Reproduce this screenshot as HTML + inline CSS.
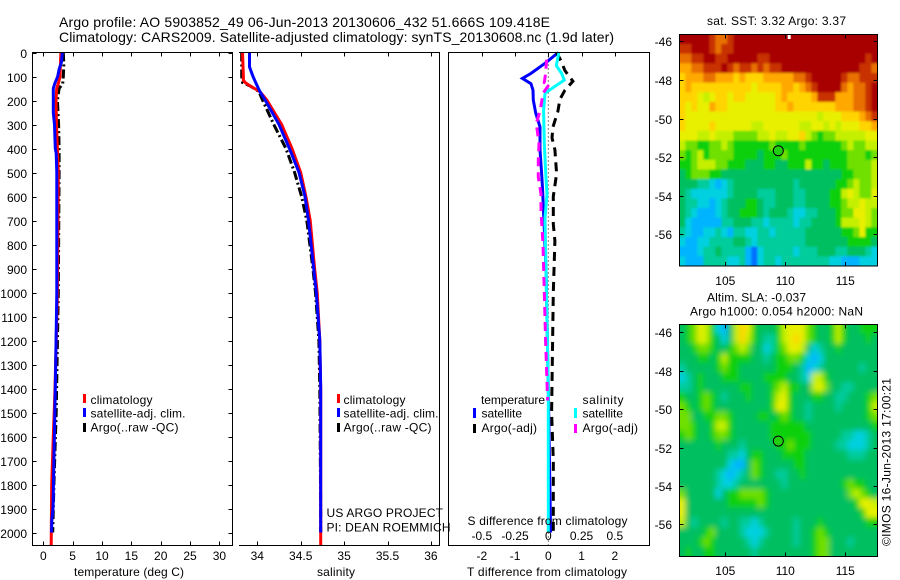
<!DOCTYPE html>
<html>
<head>
<meta charset="utf-8">
<title>Argo profile</title>
<style>
html,body{margin:0;padding:0;background:#fff;}
svg{display:block;}
text{font-family:"Liberation Sans",sans-serif;font-size:12px;fill:#000;}
.ttl{font-size:14px;}
</style>
</head>
<body>
<svg id="chart" width="900" height="580" viewBox="0 0 900 580" xmlns="http://www.w3.org/2000/svg">
<defs>
<clipPath id="clipA"><rect x="679.5" y="34.5" width="198" height="231.5"/></clipPath>
<clipPath id="clipB"><rect x="679.5" y="324.5" width="198" height="232"/></clipPath>
<filter id="softA" x="-5%" y="-5%" width="110%" height="110%"><feGaussianBlur stdDeviation="1"/></filter>
<filter id="softB" x="-5%" y="-5%" width="110%" height="110%"><feGaussianBlur stdDeviation="3"/></filter>
</defs>
<rect x="0" y="0" width="900" height="580" fill="#fff"/>
<text class="ttl" x="59" y="27" textLength="491" lengthAdjust="spacing">Argo profile: AO 5903852_49 06-Jun-2013 20130606_432 51.666S 109.418E</text>
<text class="ttl" x="59" y="42" textLength="555" lengthAdjust="spacing">Climatology: CARS2009. Satellite-adjusted climatology: synTS_20130608.nc (1.9d later)</text>

<g id="p1"></g>
<g id="p2"></g>
<g id="p3"></g>
<g id="m1"></g>
<g id="m2"></g>

<g fill="none" stroke="#000" stroke-width="1">
<path d="M32.5 52.5H232.5V545.5H32.5Z"/>
<path d="M239 52.5H439.5V545.5H239"/>
<path d="M448.5 52.5H649.5V545.5H448.5Z"/>
<path d="M679.5 34.5H877.5V266H679.5Z"/>
<path d="M679.5 324.5H877.5V556.5H679.5Z"/>
</g>

<text x="74" y="576" textLength="110" lengthAdjust="spacing">temperature (deg C)</text>
<text x="317" y="576" textLength="38" lengthAdjust="spacing">salinity</text>
<text x="467" y="576" textLength="160" lengthAdjust="spacing">T difference from climatology</text>
<text x="467.5" y="525" textLength="160" lengthAdjust="spacing">S difference from climatology</text>

<g>
<rect x="83" y="394" width="3" height="9" fill="#f00"/>
<rect x="83" y="408" width="3" height="9" fill="#00f"/>
<rect x="83" y="423" width="3" height="9" fill="#000"/>
<text x="90.5" y="404" textLength="62" lengthAdjust="spacing">climatology</text>
<text x="90.5" y="417.5" textLength="95" lengthAdjust="spacing">satellite-adj. clim.</text>
<text x="90.5" y="431.5" textLength="88" lengthAdjust="spacing">Argo(..raw -QC)</text>
</g>
<g>
<rect x="337" y="394" width="3" height="9" fill="#f00"/>
<rect x="337" y="408" width="3" height="9" fill="#00f"/>
<rect x="337" y="423" width="3" height="9" fill="#000"/>
<text x="343.5" y="404" textLength="62" lengthAdjust="spacing">climatology</text>
<text x="343.5" y="417.5" textLength="95" lengthAdjust="spacing">satellite-adj. clim.</text>
<text x="343.5" y="431.5" textLength="88" lengthAdjust="spacing">Argo(..raw -QC)</text>
</g>
<g>
<text x="481" y="404" textLength="64" lengthAdjust="spacing">temperature</text>
<text x="582.5" y="404" textLength="41" lengthAdjust="spacing">salinity</text>
<rect x="473" y="408" width="3" height="10" fill="#00f"/>
<rect x="473" y="424" width="3" height="9" fill="#000"/>
<rect x="574" y="408" width="3" height="10" fill="#0ff"/>
<rect x="574" y="424" width="3" height="9" fill="#f0f"/>
<text x="481.5" y="417.5" textLength="40.5" lengthAdjust="spacing">satellite</text>
<text x="481.5" y="432" textLength="55.5" lengthAdjust="spacing">Argo(-adj)</text>
<text x="582.5" y="417.5" textLength="40.5" lengthAdjust="spacing">satellite</text>
<text x="582.5" y="432" textLength="55.5" lengthAdjust="spacing">Argo(-adj)</text>
</g>

<text x="326.5" y="517" textLength="116.5" lengthAdjust="spacing">US ARGO PROJECT</text>
<text x="326.5" y="531.5" textLength="124" lengthAdjust="spacing">PI: DEAN ROEMMICH</text>

<text x="707" y="25" textLength="139" lengthAdjust="spacing">sat. SST: 3.32 Argo: 3.37</text>
<text x="707" y="301.5" textLength="99" lengthAdjust="spacing">Altim. SLA: -0.037</text>
<text x="690" y="315.5" textLength="173" lengthAdjust="spacing">Argo h1000: 0.054 h2000: NaN</text>
<text transform="translate(890.5,546) rotate(-90)" textLength="168" lengthAdjust="spacing">©IMOS 16-Jun-2013 17:00:21</text>
</svg>
<script>
// ---- shared axis labels ----
const depthTicks = [0,100,200,300,400,500,600,700,800,900,1000,1100,1200,1300,1400,1500,1600,1700,1800,1900,2000];
const tempTicks = [0,5,10,15,20,25,30];
const salTicks = [34,34.5,35,35.5,36];
const salTickLabels = ['34','34.5','35','35.5','36'];
const tDiffTicks = [-2,-1,0,1,2];
const sDiffTicks = [-0.5,-0.25,0,0.25,0.5];
const sDiffLabels = ['-0.5','-0.25','0','0.25','0.5'];
const lonTicks = [105,110,115];
const latTicks = [-46,-48,-50,-52,-54,-56];

// ---- temperature profiles ----
const tClimDepth = [0,100,125,150,200,300,500,1000,1400,1500,1600,1800,2000,2052];
const tClim = [3.0,2.85,2.6,2.28,2.16,2.25,2.56,2.4,2.0,1.85,1.7,1.43,1.37,1.35];
const tSatDepth = [0,40,70,100,130,150,250,300,400,420,500,1000,1400,1700,1900,1950,2000];
const tSat = [3.24,3.1,2.7,2.45,1.95,1.7,1.7,1.9,2.05,2.2,2.3,2.3,2.05,1.8,1.65,1.45,1.4];
const tArgoDepth = [0,50,100,130,150,200,300,400,500,1000,1500,1800,2000];
const tArgo = [3.4,3.5,3.4,3.3,2.7,2.4,2.6,2.7,2.7,2.55,2.2,1.8,1.6];

// ---- salinity profiles ----
const sClimDepth = [0,100,115,125,140,163,198,300,400,500,600,700,900,1000,1200,1400,2052];
const sClim = [33.83,33.84,33.84,33.86,33.92,34.03,34.11,34.28,34.40,34.50,34.56,34.61,34.66,34.69,34.72,34.73,34.73];
const sSatDepth = [0,60,100,128,163,198,300,400,500,600,700,900,1000,1200,1400,2000];
const sSat = [33.91,33.91,33.95,33.985,34.03,34.09,34.25,34.37,34.48,34.55,34.59,34.65,34.68,34.72,34.73,34.73];
const sArgoDepth = [0,100,125,140,163,198,300,400,500,600,700,900,1000,1200,1400,1900,2000];
const sArgo = [33.82,33.82,33.83,33.92,34.02,34.06,34.19,34.33,34.43,34.51,34.57,34.64,34.67,34.71,34.72,34.73,34.73];

// ---- difference profiles ----
const dTSatDepth = [0,45,87,108,130,157,198,252,310,406,503,573,642,900,1400,2000];
const dTSat = [0.3,-0.1,-0.52,-0.78,-0.52,-0.46,-0.45,-0.38,-0.25,-0.25,-0.2,-0.17,-0.15,-0.07,0,0.07];
const dTArgoDepth = [0,40,75,120,157,195,245,310,355,405,505,600,715,785,1000,1500,1700,2000];
const dTArgo = [0.25,0.4,0.5,0.74,0.5,0.35,0.29,0.14,0.11,0.2,0.25,0.15,0.15,0.2,0.15,0.1,0.15,0.15];
const dSSatDepth = [0,55,87,115,145,170,240,380,520,590,690,1400,2000];
const dSSat = [0.08,0.06,0.1,0.12,0.04,-0.025,-0.035,-0.03,-0.018,-0.01,-0.025,0,0];
const dSArgoDepth = [30,87,125,130,170,240,295,380,450,520,590,660,800,1000,1200,1450];
const dSArgo = [-0.0125,-0.02,-0.03,0.01,-0.04,-0.06,-0.09,-0.07,-0.075,-0.075,-0.055,-0.055,-0.04,-0.03,-0.02,-0.005];

// ---- map markers ----
const argoLon = 109.418;
const argoLat = -51.666;
const colorLevels = ['#0070ff','#00b4ff','#00d0e0','#00cc9c','#00bf60','#08d010','#70e000','#c4f000','#e8f000','#ffd400','#ffa800','#e87000','#c83000','#a80000'];

// ---- SST map grid, north to south ----
const sstRows = [
[13,13,13,13,13,12,11,11,12,13,13, 13,13,13,13,13,13,13,13,13,13,13, 13,13,13,13,13,13,13,13,13,13,13],
[12,12,13,13,13,12,11,12,12,13,13, 13,13,13,13,13,13,13,13,13,13,13, 13,13,13,13,13,13,13,13,13,13,13],
[11,11,12,12,13,13,12,12,13,13,13, 13,13,12,12,13,13,13,13,13,13,13, 13,13,13,13,13,13,13,13,13,12,13],
[10,10,11,11,12,12,12,13,12,11,12, 12,11,12,11,12,12,13,13,13,13,13, 13,13,13,13,13,13,13,13,12,12,11],
[9,10,10,10,11,11,10,10,10,9,10, 9,9,9,10,10,10,10,10,11,11,12, 13,13,13,13,13,12,11,11,12,12,12],
[9,10,9,9,9,9,9,9,9,9,9, 9,8,9,9,9,9,10,10,9,10,11, 12,13,13,13,13,11,10,11,11,12,13],
[9,9,9,8,7,8,9,9,8,9,9, 8,8,8,8,8,9,10,9,9,9,9, 10,12,12,12,10,10,10,11,11,12,13],
[9,8,9,8,8,10,9,9,8,8,8, 8,8,8,8,8,9,9,10,9,9,9, 9,9,9,9,10,10,10,11,11,12,13],
[9,8,8,8,8,8,8,8,8,8,8, 8,8,8,8,8,8,8,8,8,8,8, 8,7,8,8,8,9,9,9,10,11,12],
[9,8,8,8,8,9,8,8,8,8,8, 8,7,7,8,8,8,8,8,8,7,7, 8,8,7,8,7,8,8,8,9,9,10],
[8,8,8,7,7,8,7,7,7,6,6, 6,6,7,7,8,7,7,8,8,9,7, 6,5,6,6,7,7,7,7,7,8,8],
[7,6,6,5,5,6,6,7,6,5,5, 5,5,5,5,6,5,5,5,5,6,5, 5,5,5,5,5,6,7,6,6,7,7],
[6,5,6,7,5,6,6,6,6,5,5, 5,5,4,5,5,5,6,5,5,5,5, 5,5,5,5,5,5,6,6,6,5,6],
[5,5,6,7,7,7,6,6,5,5,5, 4,4,4,5,5,4,4,5,5,5,7, 5,5,4,5,5,5,6,6,6,6,7],
[4,5,6,6,6,5,5,4,4,4,4, 4,4,4,4,4,4,4,4,4,4,4, 4,4,4,4,4,5,5,6,6,6,7],
[4,4,4,3,3,2,1,2,3,4,4, 4,4,4,4,4,4,4,4,3,4,4, 4,4,4,4,5,5,6,7,6,6,7],
[4,3,2,2,2,2,2,2,3,4,4, 4,4,3,3,3,4,4,4,3,3,4, 4,4,4,5,5,7,8,7,6,6,8],
[4,3,3,2,2,1,2,3,4,4,4, 5,5,4,3,3,4,4,4,3,3,4, 4,4,4,5,5,6,7,7,8,7,7],
[4,3,2,1,1,1,2,3,4,4,5, 5,5,4,3,4,4,4,3,2,2,3, 3,4,4,4,5,6,6,8,8,7,6],
[4,2,1,1,1,1,1,3,3,4,4, 4,3,3,2,3,3,3,3,2,3,3, 4,4,4,4,5,7,7,7,8,7,6],
[3,2,1,1,2,2,3,2,1,3,3, 2,2,3,3,2,3,3,3,3,3,4, 4,4,4,4,4,5,5,6,8,5,5],
[2,1,1,2,2,3,3,3,3,4,4, 3,2,3,3,3,3,3,3,3,3,4, 4,4,4,4,4,4,5,5,5,5,4],
[1,1,1,2,3,3,4,3,3,3,3, 1,0,2,3,3,3,3,3,2,3,3, 3,4,4,4,3,3,4,4,4,3,2],
[2,1,1,1,3,3,3,3,2,2,3, 1,0,2,3,3,2,3,3,3,3,3, 3,3,3,2,2,1,1,1,2,2,2]
];

// ---- altimetry map grid, north to south ----
const slaRows = [
[4,5,6,8,7,5,2,1,4,7,9, 8,5,4,4,4,5,7,8,8,8,6, 5,4,4,5,7,5,4,4,5,5,5],
[4,5,6,8,7,5,4,2,4,7,9, 7,5,4,3,3,5,7,8,9,8,6, 5,4,4,5,7,5,4,4,4,5,4],
[4,4,5,6,6,5,4,4,5,6,7, 6,4,4,2,3,5,6,8,8,7,4, 2,3,4,4,5,4,4,4,4,4,4],
[4,4,4,5,5,4,5,7,5,5,5, 5,4,4,3,4,5,5,6,6,5,2, 1,2,4,4,4,4,4,4,4,4,4],
[3,4,4,4,4,4,5,6,5,5,4, 4,4,4,4,4,5,5,5,4,3,1, 2,3,4,4,4,4,4,4,3,4,4],
[2,3,4,5,4,4,4,5,5,5,4, 4,4,4,5,5,5,5,4,4,3,2, 7,7,5,4,4,4,4,4,4,4,4],
[3,3,4,5,4,4,4,4,4,4,5, 5,4,4,4,5,6,7,5,5,4,4, 7,8,6,4,4,3,3,4,4,4,4],
[5,4,4,5,6,5,4,3,4,4,4, 5,4,4,4,5,7,8,5,4,4,4, 5,5,4,4,3,3,4,4,4,5,6],
[6,5,4,5,6,5,4,4,4,4,4, 4,4,4,4,5,8,8,5,4,4,3, 4,4,4,4,3,4,4,4,4,5,7],
[6,6,4,4,5,5,6,6,5,4,4, 4,4,5,5,4,5,6,5,4,4,3, 4,4,4,4,4,4,4,4,4,5,6],
[6,6,5,4,4,5,7,7,5,4,4, 4,4,4,4,5,5,5,5,5,5,4, 4,4,4,4,4,4,4,4,4,4,5],
[5,6,5,4,4,5,6,6,5,4,4, 4,4,4,4,5,5,5,5,5,5,5, 4,4,4,4,4,3,3,2,2,3,4],
[4,4,4,4,4,4,5,4,4,4,3, 4,4,4,4,4,5,5,6,5,5,5, 4,4,4,4,3,3,2,2,2,3,4],
[4,4,4,4,4,4,4,4,3,3,2, 4,5,5,4,4,4,5,5,5,5,4, 4,4,4,4,4,4,3,3,3,4,4],
[4,4,4,4,4,4,4,4,2,1,1, 4,6,5,4,4,4,4,4,5,5,4, 4,4,4,4,4,4,4,4,4,4,4],
[4,4,4,4,4,4,3,2,1,2,3, 4,6,5,4,4,3,3,4,4,5,4, 4,4,4,4,4,4,4,4,4,4,4],
[4,4,4,4,4,4,3,2,2,3,4, 4,4,4,4,4,4,3,4,4,4,4, 4,4,4,4,4,5,6,5,5,4,4],
[6,4,4,4,4,4,2,4,5,5,6, 6,6,6,5,4,4,4,4,4,4,4, 4,4,4,4,4,4,6,7,6,5,4],
[8,4,4,4,4,4,4,4,5,5,5, 5,5,6,5,4,4,4,4,4,4,4, 4,4,4,4,4,4,4,5,8,8,7],
[8,4,4,4,4,4,4,4,4,4,4, 4,4,4,4,4,4,4,4,4,4,4, 4,4,4,4,4,4,4,4,5,8,8],
[7,4,3,4,4,4,4,3,4,4,3, 3,2,3,4,4,4,4,4,3,4,4, 4,5,4,4,4,4,4,4,4,5,5],
[4,4,4,4,5,6,4,4,4,4,3, 2,2,2,3,4,4,4,4,3,4,4, 5,6,5,4,4,4,4,4,4,4,4],
[4,4,4,5,6,5,4,4,4,4,4, 3,2,3,4,4,4,4,4,3,4,4, 5,6,6,4,4,4,3,4,4,4,4],
[4,5,4,4,5,5,4,4,4,4,4, 4,3,4,4,4,4,4,4,4,4,4, 5,6,6,4,4,4,4,4,4,4,4]
];

// ---- axis functions ----
const SVGNS = 'http://www.w3.org/2000/svg';
const yDepth = d => 52.5 + d * 0.24;
const xTemp = v => 43.3 + v * 5.87;
const xSal = v => 257.3 + (v - 34) * 86.8;
const xDiffT = v => 548.3 + v * 33.25;
const xDiffS = v => 548.3 + v * 133;
const xLon = v => 725.3 + (v - 105) * 12;
const yLatA = v => 41.3 + (-46 - v) * 19.3;
const yLatB = v => 332.3 + (-46 - v) * 19.2;

function make(tag, attrs, parent) {
  const el = document.createElementNS(SVGNS, tag);
  for (const k in attrs) el.setAttribute(k, attrs[k]);
  parent.appendChild(el);
  return el;
}
function label(str, x, y, anchor, parent) {
  const el = make('text', {x: x, y: y, 'text-anchor': anchor}, parent);
  el.textContent = str;
  
  
  return el;
}
function tick(x1, y1, x2, y2, parent) {
  const el = make('line', {x1: x1, y1: y1, x2: x2, y2: y2, stroke: '#000', 'stroke-width': 1}, parent);
  
  
  return el;
}
function profile(values, depths, xf, color, dash, width, name, parent) {
  const pts = values.map((v, i) => xf(v).toFixed(1) + ',' + yDepth(depths[i]).toFixed(1)).join(' ');
  const attrs = {points: pts, fill: 'none', stroke: color, 'stroke-width': width, 'stroke-linejoin': 'miter'};
  if (dash) attrs['stroke-dasharray'] = dash;
  const el = make('polyline', attrs, parent);
  
  
  return el;
}

// ---- temperature panel ----
const p1 = document.getElementById('p1');
profile(tArgo, tArgoDepth, xTemp, '#000', '9 3 2 3', 3, 'argo-temperature-line', p1);
profile(tClim, tClimDepth, xTemp, '#f00', null, 3, 'climatology-temperature-line', p1);
profile(tSat, tSatDepth, xTemp, '#00f', null, 3, 'satellite-temperature-line', p1);
depthTicks.forEach(d => {
  const y = Math.round(yDepth(d)) + 0.5;
  tick(32.5, y, 36.5, y, p1);
  tick(228.5, y, 232.5, y, p1);
  label(String(d), 27, y + 4.5, 'end', p1);
});
tempTicks.forEach(t => {
  const x = Math.round(xTemp(t)) + 0.5;
  tick(x, 52.5, x, 56.5, p1);
  tick(x, 541.5, x, 545.5, p1);
  label(String(t), xTemp(t), 560, 'middle', p1);
});

// ---- salinity panel ----
const p2 = document.getElementById('p2');
profile(sArgo, sArgoDepth, xSal, '#000', '9 3 2 3', 3, 'argo-salinity-line', p2);
profile(sClim, sClimDepth, xSal, '#f00', null, 3, 'climatology-salinity-line', p2);
profile(sSat, sSatDepth, xSal, '#00f', null, 3, 'satellite-salinity-line', p2);
salTicks.forEach((t, i) => {
  const x = Math.round(xSal(t)) + 0.5;
  tick(x, 52.5, x, 56.5, p2);
  tick(x, 541.5, x, 545.5, p2);
  label(salTickLabels[i], xSal(t), 560, 'middle', p2);
});

// ---- difference panel ----
const p3 = document.getElementById('p3');
const zero = make('line', {x1: xDiffT(0), y1: 52.5, x2: xDiffT(0), y2: 545.5, stroke: '#000', 'stroke-width': 1, 'stroke-dasharray': '1 3'}, p3);


profile(dTSat, dTSatDepth, xDiffT, '#00f', null, 3, 't-satellite-difference-line', p3);
profile(dTArgo, dTArgoDepth, xDiffT, '#000', '9 6', 3, 't-argo-difference-line', p3);
profile(dSSat, dSSatDepth, xDiffS, '#0ff', null, 3, 's-satellite-difference-line', p3);
profile(dSArgo, dSArgoDepth, xDiffS, '#f0f', '9 6', 3, 's-argo-difference-line', p3);
tDiffTicks.forEach(t => {
  const x = Math.round(xDiffT(t)) + 0.5;
  tick(x, 52.5, x, 56.5, p3);
  label(String(t), xDiffT(t), 560, 'middle', p3);
});
sDiffTicks.forEach((t, i) => {
  label(sDiffLabels[i], xDiffS(t), 540, 'middle', p3);
});

// ---- maps ----
function heatmap(rows, parent, clipId, yLat, latTop, latBottom, filterId) {
  const clip = make('g', {'clip-path': 'url(#' + clipId + ')'}, parent);
  const g = make('g', {filter: 'url(#' + filterId + ')'}, clip);
  const lonLeft = 101.17, lonRight = 117.67;
  const pad = 8;
  rows.forEach((row, r) => {
    row.forEach((v, c) => {
      const dLon = (lonRight - lonLeft) / row.length;
      const dLat = (latTop - latBottom) / rows.length;
      const x0 = xLon(lonLeft + c * dLon), x1 = xLon(lonLeft + (c + 1) * dLon);
      const y0 = yLat(latTop - r * dLat), y1 = yLat(latTop - (r + 1) * dLat);
      const cell = make('rect', {
        x: (x0 - (c === 0 ? pad : 0)).toFixed(2),
        y: (y0 - (r === 0 ? pad : 0)).toFixed(2),
        width: (x1 - x0 + 0.4 + (c === 0 || c === row.length - 1 ? pad : 0)).toFixed(2),
        height: (y1 - y0 + 0.4 + (r === 0 || r === rows.length - 1 ? pad : 0)).toFixed(2),
        fill: colorLevels[v]
      }, g);
      
      
    });
  });
}
function mapAxes(parent, yLat, top, bottom, labelY) {
  const left = 679.5, right = 877.5;
  lonTicks.forEach(t => {
    const x = Math.round(xLon(t)) + 0.5;
    tick(x, top, x, top + 4, parent);
    tick(x, bottom - 4, x, bottom, parent);
    label(String(t), xLon(t), labelY, 'middle', parent);
  });
  latTicks.forEach(t => {
    const y = Math.round(yLat(t)) + 0.5;
    tick(left, y, left + 4, y, parent);
    tick(right - 4, y, right, y, parent);
    label(String(t), 672, y + 4.5, 'end', parent);
  });
}
function marker(parent, yLat) {
  const m = make('circle', {cx: xLon(argoLon).toFixed(1), cy: yLat(argoLat).toFixed(1), r: 5, fill: '#20d010', stroke: '#000', 'stroke-width': 1}, parent);
  
  
}
const m1 = document.getElementById('m1');
heatmap(sstRows, m1, 'clipA', yLatA, -45.64, -57.64, 'softA');
mapAxes(m1, yLatA, 34.5, 266, 285);
marker(m1, yLatA);
const sstNote = make('rect', {x: xLon(110.2), y: 35, width: 3, height: 4, fill: '#fff'}, m1);



const m2 = document.getElementById('m2');
heatmap(slaRows, m2, 'clipB', yLatB, -45.58, -57.67, 'softB');
mapAxes(m2, yLatB, 324.5, 556.5, 575);
marker(m2, yLatB);
</script>
</body>
</html>
